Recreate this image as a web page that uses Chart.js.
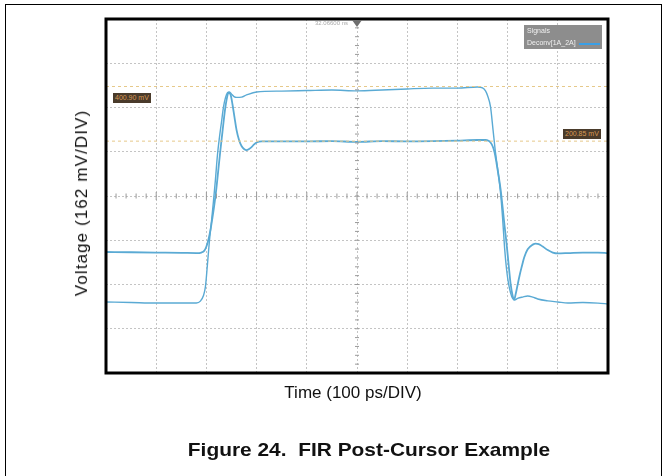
<!DOCTYPE html>
<html>
<head>
<meta charset="utf-8">
<script src="https://cdn.jsdelivr.net/npm/chart.js@4.4.1/dist/chart.umd.min.js"></script>
<style>
  html, body { margin: 0; padding: 0; background: #fff; }
  body { width: 669px; height: 476px; position: relative; overflow: hidden; font-family: "Liberation Sans", Arial, sans-serif; }
  #frame { position: absolute; left: 5px; top: 4px; width: 657px; height: 500px; border: 1.5px solid #000; box-sizing: border-box; }
  #c { position: absolute; left: 0; top: 0; }
  .txt { position: absolute; white-space: nowrap; color: #111; }
  #ylab { left: 82px; top: 203px; font-size: 17px; letter-spacing: 1.1px; transform: translate(-50%, -50%) rotate(-90deg); }
  #xlab { left: 353px; top: 393px; font-size: 17px; transform: translate(-50%, -50%); }
  #cap { left: 369px; top: 450px; font-size: 19px; font-weight: bold; transform: translate(-50%, -50%) scaleX(1.1); }
  .cur { position: absolute; background: #4a3b2b; color: #d99a55; font-size: 7px; line-height: 10px; padding: 0 2px; }
  #legbox { position: absolute; left: 524px; top: 25px; width: 78px; height: 24px; background: #8d8d8d; }
  #legbox .l1 { position: absolute; left: 3px; top: 2px; font-size: 7px; color: #f0f0f0; }
  #legbox .l2 { position: absolute; left: 3px; top: 14px; font-size: 7px; color: #f0f0f0; }
  #legbox .sw { position: absolute; left: 55px; top: 18px; width: 21px; height: 2px; background: #3a9fe6; }
  #trig { position: absolute; left: 315px; top: 20px; font-size: 6px; color: #aaa; }
  #tri { position: absolute; left: 352px; top: 20px; width: 0; height: 0; border-left: 5px solid transparent; border-right: 5px solid transparent; border-top: 7px solid #6f6f6f; }
</style>
</head>
<body>
<div id="frame"></div>
<canvas id="c" width="669" height="476"></canvas>
<div class="txt" id="ylab">Voltage (162 mV/DIV)</div>
<div class="txt" id="xlab">Time (100 ps/DIV)</div>
<div class="txt" id="cap">Figure 24.&nbsp;&nbsp;FIR Post-Cursor Example</div>
<div class="cur" id="cur1" style="left:113px; top:93px;">400.90 mV</div>
<div class="cur" id="cur2" style="left:563px; top:129px;">200.85 mV</div>
<div id="legbox"><div class="l1">Signals</div><div class="l2">Deconv[1A_2A]</div><div class="sw"></div></div>
<div id="trig">32.06600 ns</div>
<div id="tri"></div>
<script>
// ---- Data (time in ps relative to trigger, voltage in mV) ----
const timeRange = [-500, 500];          // 100 ps/DIV, 10 divisions
const voltRange = [-648, 648];          // 162 mV/DIV, 8 divisions
const timeStep = 100;
const voltStep = 162;
const cursorLevels = [400.90, 200.85];

const traceA_t = [-500,-450,-400,-350,-320,-312,-306,-302,-298,-294,-290,-286,-282,-278,-274,-270,-266,-262,-258,-254,-250,-245,-240,-230,-220,-200,-150,-100,-50,0,50,100,150,200,240,250,256,260,266,271,276,281,286,290,294,298,302,306,310,314,320,330,340,350,360,380,400,420,450,480,500];
const traceA_mv = [-388,-390,-392,-392,-392,-385,-365,-333,-252,-165,-95,-20,60,150,215,270,325,360,378,381,373,364,361,362,370,381,384,386,388,385,388,392,395,395,399,396,385,368,326,242,157,88,10,-80,-190,-270,-322,-355,-375,-380,-375,-370,-366,-370,-377,-384,-388,-392,-390,-392,-395];

const traceB_t = [-500,-450,-400,-350,-320,-310,-304,-300,-296,-292,-288,-284,-280,-276,-272,-268,-264,-260,-256,-252,-248,-244,-240,-235,-230,-225,-220,-215,-210,-205,-200,-190,-150,-100,-50,0,50,100,150,200,240,256,262,266,270,274,278,282,286,290,294,298,302,306,310,313,316,320,324,328,333,340,350,356,362,370,380,390,400,420,450,480,500];
const traceB_mv = [-205,-206,-207,-208,-209,-207,-200,-185,-160,-125,-80,-30,30,100,170,235,300,350,378,372,335,288,242,205,183,172,168,172,179,189,196,200,200,200,201,198,201,200,201,203,205,205,202,196,183,160,120,75,25,-40,-110,-175,-250,-322,-365,-380,-360,-325,-290,-260,-225,-195,-178,-174,-176,-185,-198,-207,-210,-209,-207,-207,-209];

function pairs(ts, vs) { return ts.map((t, i) => ({ x: t, y: vs[i] })); }

const traceColor = '#5aaad4';

const datasets = cursorLevels.map(v => ({
  data: [{ x: timeRange[0], y: v }, { x: timeRange[1], y: v }],
  borderColor: '#e6c98a', borderWidth: 1, borderDash: [3, 3], pointRadius: 0
}));
datasets.push({ data: pairs(traceB_t, traceB_mv), borderColor: traceColor, borderWidth: 1.8, pointRadius: 0, cubicInterpolationMode: 'monotone' });
datasets.push({ data: pairs(traceA_t, traceA_mv), borderColor: traceColor, borderWidth: 1.4, pointRadius: 0, cubicInterpolationMode: 'monotone' });

const scopeDecor = {
  id: 'scopeDecor',
  afterDatasetsDraw(chart) {
    const { ctx, chartArea: a, scales: { x, y } } = chart;
    ctx.save();
    // center axis minor ticks
    ctx.strokeStyle = '#9a9a9a';
    ctx.lineWidth = 1;
    const y0 = y.getPixelForValue(0), x0 = x.getPixelForValue(0);
    for (let t = timeRange[0]; t <= timeRange[1]; t += timeStep / 5) {
      const px = x.getPixelForValue(t);
      const len = (t % timeStep === 0) ? 4 : 2.5;
      ctx.beginPath(); ctx.moveTo(px, y0 - len); ctx.lineTo(px, y0 + len); ctx.stroke();
    }
    for (let v = voltRange[0]; v <= voltRange[1] + 0.01; v += voltStep / 5) {
      const py = y.getPixelForValue(v);
      const len = 2;
      ctx.beginPath(); ctx.moveTo(x0 - len, py); ctx.lineTo(x0 + len, py); ctx.stroke();
    }
    // frame
    ctx.strokeStyle = '#000';
    ctx.lineWidth = 3;
    ctx.strokeRect(a.left, a.top, a.right - a.left, a.bottom - a.top);
    ctx.restore();
  }
};

new Chart(document.getElementById('c'), {
  type: 'line',
  data: { datasets },
  options: {
    responsive: false,
    animation: false,
    layout: { padding: { left: 106, top: 19, right: 61, bottom: 103 } },
    plugins: { legend: { display: false }, tooltip: { enabled: false } },
    scales: {
      x: {
        type: 'linear', min: timeRange[0], max: timeRange[1],
        ticks: { display: false, stepSize: timeStep },
        grid: { color: '#c4c4c4', drawTicks: false, lineWidth: 1 },
        border: { display: false, dash: [2, 2] }
      },
      y: {
        type: 'linear', min: voltRange[0], max: voltRange[1],
        ticks: { display: false, stepSize: voltStep },
        grid: { color: '#c4c4c4', drawTicks: false, lineWidth: 1 },
        border: { display: false, dash: [2, 2] }
      }
    }
  },
  plugins: [scopeDecor]
});
</script>
</body>
</html>
